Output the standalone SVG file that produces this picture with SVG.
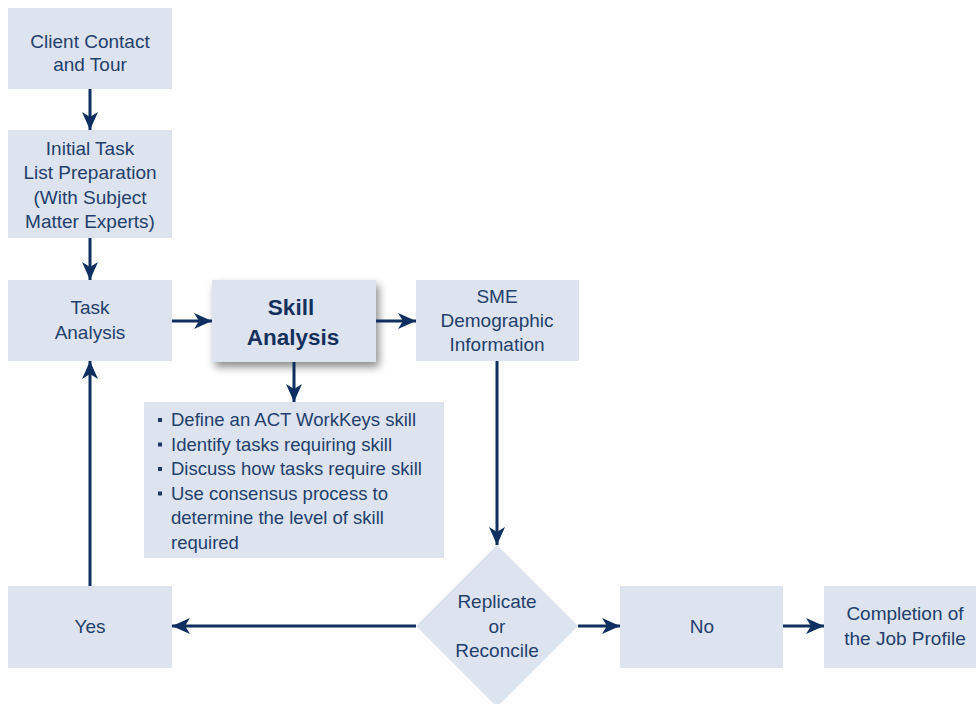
<svg xmlns="http://www.w3.org/2000/svg" width="976" height="704" viewBox="0 0 976 704">
  <defs>
    <marker id="arrow" viewBox="0 0 18 16" refX="18" refY="8" markerWidth="18" markerHeight="16" markerUnits="userSpaceOnUse" orient="auto">
      <path d="M0,0 L18,8 L0,16 L5,8 Z" fill="#0e2f5f"/>
    </marker>
    <filter id="shadow" x="-20%" y="-20%" width="150%" height="160%">
      <feDropShadow dx="3" dy="5" stdDeviation="4" flood-color="#000" flood-opacity="0.45"/>
    </filter>
  </defs>
  <style>
    .box { fill: #dde3ef; }
    .t { font-family: "Liberation Sans", Arial, sans-serif; font-size: 19px; fill: #233f6c; text-anchor: middle; }
    .tl { font-family: "Liberation Sans", Arial, sans-serif; font-size: 18.5px; fill: #233f6c; }
    .b { font-family: "Liberation Sans", Arial, sans-serif; font-size: 22.5px; font-weight: bold; fill: #14305c; text-anchor: middle; }
    .conn { stroke: #0e2f5f; stroke-width: 3; fill: none; marker-end: url(#arrow); }
  </style>

  <rect width="976" height="704" fill="#ffffff"/>

  <g id="client-contact">
    <rect class="box" x="8" y="8" width="164" height="81"/>
    <text class="t" x="90" y="48">Client Contact</text>
    <text class="t" x="90" y="71">and Tour</text>
  </g>

  <g id="initial-task-list">
    <rect class="box" x="8" y="130" width="164" height="108"/>
    <text class="t" x="90" y="155">Initial Task</text>
    <text class="t" x="90" y="179">List Preparation</text>
    <text class="t" x="90" y="204">(With Subject</text>
    <text class="t" x="90" y="228">Matter Experts)</text>
  </g>

  <g id="task-analysis">
    <rect class="box" x="8" y="280" width="164" height="81"/>
    <text class="t" x="90" y="314">Task</text>
    <text class="t" x="90" y="339">Analysis</text>
  </g>

  <g id="skill-analysis">
    <rect class="box" x="212" y="280" width="164" height="82" filter="url(#shadow)"/>
    <text class="b" x="291" y="315">Skill</text>
    <text class="b" x="293" y="345">Analysis</text>
  </g>

  <g id="sme-demographic">
    <rect class="box" x="416" y="280" width="163" height="81"/>
    <text class="t" x="497" y="303">SME</text>
    <text class="t" x="497" y="327">Demographic</text>
    <text class="t" x="497" y="351">Information</text>
  </g>

  <g id="skill-steps">
    <rect class="box" x="144" y="402" width="300" height="156"/>
    <g fill="#1c3966">
      <rect x="158" y="418" width="4" height="4"/>
      <rect x="158" y="442.5" width="4" height="4"/>
      <rect x="158" y="467" width="4" height="4"/>
      <rect x="158" y="491.5" width="4" height="4"/>
    </g>
    <text class="tl" x="171" y="426">Define an ACT WorkKeys skill</text>
    <text class="tl" x="171" y="450.5">Identify tasks requiring skill</text>
    <text class="tl" x="171" y="475">Discuss how tasks require skill</text>
    <text class="tl" x="171" y="499.5">Use consensus process to</text>
    <text class="tl" x="171" y="524">determine the level of skill</text>
    <text class="tl" x="171" y="548.5">required</text>
  </g>

  <g id="replicate-or-reconcile">
    <polygon class="box" points="497,545 578,626 497,707 416,626"/>
    <text class="t" x="497" y="608">Replicate</text>
    <text class="t" x="497" y="633">or</text>
    <text class="t" x="497" y="657">Reconcile</text>
  </g>

  <g id="yes">
    <rect class="box" x="8" y="586" width="164" height="82"/>
    <text class="t" x="90" y="633">Yes</text>
  </g>

  <g id="no">
    <rect class="box" x="620" y="586" width="163" height="82"/>
    <text class="t" x="702" y="633">No</text>
  </g>

  <g id="completion">
    <rect class="box" x="824" y="586" width="164" height="82"/>
    <text class="t" x="905" y="620">Completion of</text>
    <text class="t" x="905" y="645">the Job Profile</text>
  </g>

  <g id="connectors">
    <line class="conn" x1="90" y1="89" x2="90" y2="130"/>
    <line class="conn" x1="90" y1="238" x2="90" y2="280"/>
    <line class="conn" x1="172" y1="321" x2="212" y2="321"/>
    <line class="conn" x1="376" y1="321" x2="416" y2="321"/>
    <line class="conn" x1="294" y1="362" x2="294" y2="402"/>
    <line class="conn" x1="497" y1="361" x2="497" y2="545"/>
    <line class="conn" x1="416" y1="626" x2="172" y2="626"/>
    <line class="conn" x1="90" y1="586" x2="90" y2="361"/>
    <line class="conn" x1="578" y1="626" x2="620" y2="626"/>
    <line class="conn" x1="783" y1="626" x2="824" y2="626"/>
  </g>
</svg>
